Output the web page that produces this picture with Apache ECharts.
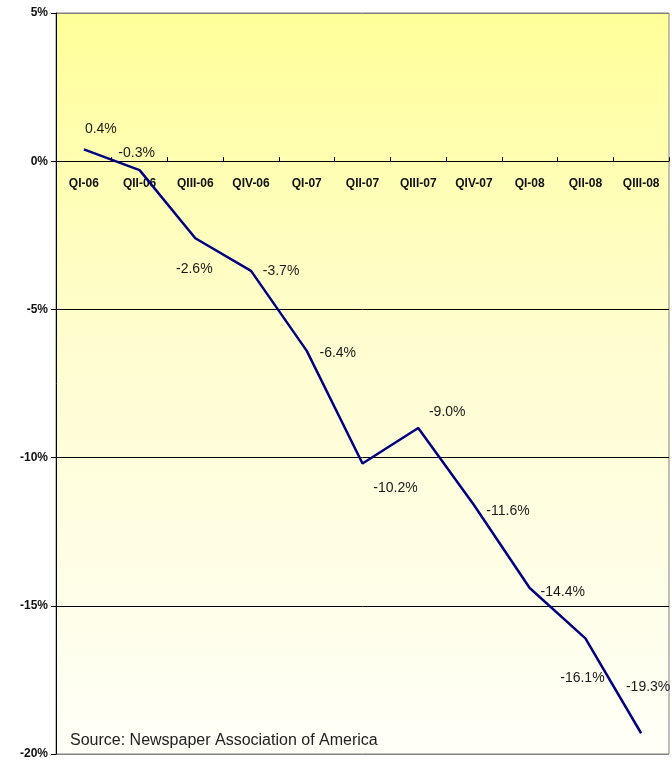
<!DOCTYPE html>
<html>
<head>
<meta charset="utf-8">
<style>
  html, body { margin: 0; padding: 0; background: #ffffff; }
  #chart { width: 672px; height: 764px; }
</style>
<script src="https://cdn.jsdelivr.net/npm/echarts@6/dist/echarts.min.js"></script>
</head>
<body>
<div id="chart"></div>
<script>
// Quarterly change in newspaper ad revenue, 2006–2008
const quarters = ['QI-06', 'QII-06', 'QIII-06', 'QIV-06', 'QI-07', 'QII-07',
                  'QIII-07', 'QIV-07', 'QI-08', 'QII-08', 'QIII-08'];
const changePct = [0.4, -0.3, -2.6, -3.7, -6.4, -10.2, -9.0, -11.6, -14.4, -16.1, -19.3];
const yTicks = [5, 0, -5, -10, -15, -20];

// where each value label sits relative to its point (px)
const labelShift = [[17, -20], [-3, -17], [-1, 31], [30, 0], [31, 2], [33, 25],
                    [29, -16], [34, 6], [33, 4], [-3, 40], [7, -46]];

const GRID_TOP = 13, GRID_BOTTOM = 10, H = 764;
const yMax = yTicks[0], yMin = yTicks[yTicks.length - 1];
// distance from the plot's bottom edge up to the 0% line
const zeroLift = (H - GRID_TOP - GRID_BOTTOM) * (0 - yMin) / (yMax - yMin);

const SYM = 2; // invisible marker size; labels are placed from its centre

const chart = echarts.init(document.getElementById('chart'));

const seriesData = changePct.map((v, i) => ({
  value: v,
  label: {
    position: [SYM / 2 + labelShift[i][0], SYM / 2 + labelShift[i][1]],
    align: 'center',
    verticalAlign: 'middle'
  }
}));

chart.setOption({
  animation: false,
  grid: {
    left: 56, right: 3, top: GRID_TOP, bottom: GRID_BOTTOM,
    outerBoundsMode: 'none',
    containLabel: false,
    show: true,
    borderColor: '#808080',
    borderWidth: 1,
    backgroundColor: new echarts.graphic.LinearGradient(0, 0, 0, 1, [
      { offset: 0, color: '#FFFF99' },
      { offset: 0.45, color: '#FFFDD0' },
      { offset: 1, color: '#FFFFF8' }
    ])
  },
  xAxis: {
    type: 'category',
    data: quarters,
    boundaryGap: true,
    position: 'bottom',
    offset: -zeroLift,
    axisLine: { onZero: false, lineStyle: { color: '#000', width: 1 } },
    axisTick: { show: true, inside: true, length: 4, lineStyle: { color: '#000' } },
    axisLabel: {
      color: '#111', fontFamily: 'Liberation Sans, Arial, sans-serif',
      fontSize: 12, fontWeight: 'bold', margin: 16, interval: 0
    },
    splitLine: { show: false }
  },
  yAxis: {
    type: 'value',
    min: yMin,
    max: yMax,
    interval: 5,
    axisLine: { show: true, lineStyle: { color: '#000', width: 1 } },
    axisTick: { show: true, length: 5, lineStyle: { color: '#000' } },
    axisLabel: {
      formatter: v => v + '%',
      color: '#111', fontFamily: 'Liberation Sans, Arial, sans-serif',
      fontSize: 12, fontWeight: 'bold', margin: 8
    },
    splitLine: {
      show: true,
      lineStyle: { color: ['#808080', '#000', '#000', '#000', '#000', '#808080'], width: 1 }
    }
  },
  series: [{
    type: 'line',
    data: seriesData,
    symbol: 'circle',
    symbolSize: SYM,
    showSymbol: true,
    showAllSymbol: true,
    itemStyle: { color: 'rgba(0,0,0,0)', borderWidth: 0 },
    lineStyle: { color: '#000080', width: 2.5 },
    z: 5,
    labelLayout: { hideOverlap: false },
    label: {
      show: true,
      formatter: p => p.value.toFixed(1) + '%',
      color: '#1a1a1a',
      fontFamily: 'Liberation Sans, Arial, sans-serif',
      fontSize: 14
    }
  }],
  graphic: [{
    type: 'text',
    left: 70,
    top: 733,
    style: {
      text: 'Source: Newspaper Association of America',
      fill: '#222',
      font: '16px "Liberation Sans", Arial, sans-serif'
    }
  }]
});
</script>
</body>
</html>
